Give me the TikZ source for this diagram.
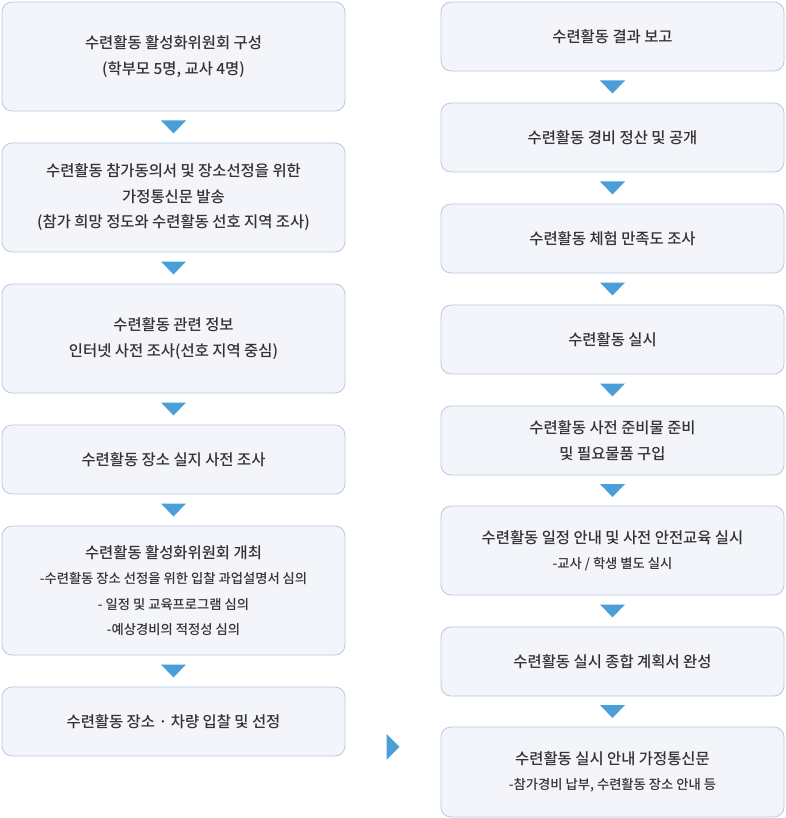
\documentclass[tikz,border=0pt]{standalone}
\usepackage{fontspec}
\setmainfont{Noto Sans CJK KR}[UprightFont={* Medium}]
\definecolor{boxfill}{HTML}{F3F5FA}
\definecolor{boxline}{HTML}{B7C8E2}
\definecolor{tipblue}{HTML}{4B9FD8}
\definecolor{txtgray}{HTML}{333333}
\newcommand{\subline}[1]{{\fontsize{13.3}{26}\selectfont #1}}
\tikzset{
  stepbox/.style={draw=boxline, fill=boxfill, rounded corners=10pt, line width=0.8pt,
    minimum width=343pt, inner sep=0pt, align=center, text=txtgray,
    font=\fontsize{15.4}{25.5}\selectfont},
  down tri/.pic={\fill[tipblue] (-12.5,-6.5) -- (12.5,-6.5) -- (0,6.5) -- cycle;},
  right tri/.pic={\fill[tipblue] (-6.5,-13) -- (6.5,0) -- (-6.5,13) -- cycle;}
}

\begin{document}
\begin{tikzpicture}[x=1pt,y=-1pt]
    \useasboundingbox (0,0) rectangle (785,818);
    % left column
    \node[stepbox, minimum height=109pt] (CC) at (173.5,56.5) {수련활동 활성화위원회 구성\\(학부모 5명, 교사 4명)};
    \node[stepbox, minimum height=109pt] (HL) at (173.5,197.5) {수련활동 참가동의서 및 장소선정을 위한\\가정통신문 발송\\(참가 희망 정도와 수련활동 선호 지역 조사)};
    \node[stepbox, minimum height=109pt] (WS) at (173.5,338.5) {수련활동 관련 정보\\인터넷 사전 조사(선호 지역 중심)};
    \node[stepbox, minimum height=69pt] (SV) at (173.5,459.5) {수련활동 장소 실지 사전 조사};
    \node[stepbox, minimum height=129pt] (CM) at (173.5,590.5) {수련활동 활성화위원회 개최\\\subline{-수련활동 장소 선정을 위한 입찰 과업설명서 심의}\\\subline{- 일정 및 교육프로그램 심의}\\\subline{-예상경비의 적정성 심의}};
    \node[stepbox, minimum height=69pt] (BD) at (173.5,721.5) {수련활동 장소 · 차량 입찰 및 선정};
    % right column
    \node[stepbox, minimum height=69pt] (RP) at (612.5,36.5) {수련활동 결과 보고};
    \node[stepbox, minimum height=69pt] (AC) at (612.5,137.5) {수련활동 경비 정산 및 공개};
    \node[stepbox, minimum height=69pt] (SS) at (612.5,238.5) {수련활동 체험 만족도 조사};
    \node[stepbox, minimum height=69pt] (RUN) at (612.5,339.5) {수련활동 실시};
    \node[stepbox, minimum height=69pt] (PR) at (612.5,440.5) {수련활동 사전 준비물 준비\\및 필요물품 구입};
    \node[stepbox, minimum height=89pt] (SE) at (612.5,550.5) {수련활동 일정 안내 및 사전 안전교육 실시\\\subline{-교사 / 학생 별도 실시}};
    \node[stepbox, minimum height=69pt] (PL) at (612.5,661.5) {수련활동 실시 종합 계획서 완성};
    \node[stepbox, minimum height=90pt] (NL) at (612.5,772) {수련활동 실시 안내 가정통신문\\\subline{-참가경비 납부, 수련활동 장소 안내 등}};
    % connectors
    \path (CC) -- coordinate[midway] (CC-HL) (HL);
    \path (HL) -- coordinate[midway] (HL-WS) (WS);
    \path (WS) -- coordinate[midway] (WS-SV) (SV);
    \path (SV) -- coordinate[midway] (SV-CM) (CM);
    \path (CM) -- coordinate[midway] (CM-BD) (BD);
    \path (BD) -- coordinate[midway] (BD-NL) (NL);
    \path (RP) -- coordinate[midway] (RP-AC) (AC);
    \path (AC) -- coordinate[midway] (AC-SS) (SS);
    \path (SS) -- coordinate[midway] (SS-RUN) (RUN);
    \path (RUN) -- coordinate[midway] (RUN-PR) (PR);
    \path (PR) -- coordinate[midway] (PR-SE) (SE);
    \path (SE) -- coordinate[midway] (SE-PL) (PL);
    \path (PL) -- coordinate[midway] (PL-NL) (NL);
    \pic at (CC-HL) {down tri};
    \pic at (HL-WS) {down tri};
    \pic at (WS-SV) {down tri};
    \pic at (SV-CM) {down tri};
    \pic at (CM-BD) {down tri};
    \pic at (BD-NL) {right tri};
    \pic at (RP-AC) {down tri};
    \pic at (AC-SS) {down tri};
    \pic at (SS-RUN) {down tri};
    \pic at (RUN-PR) {down tri};
    \pic at (PR-SE) {down tri};
    \pic at (SE-PL) {down tri};
    \pic at (PL-NL) {down tri};
  \end{tikzpicture}
\end{document}
